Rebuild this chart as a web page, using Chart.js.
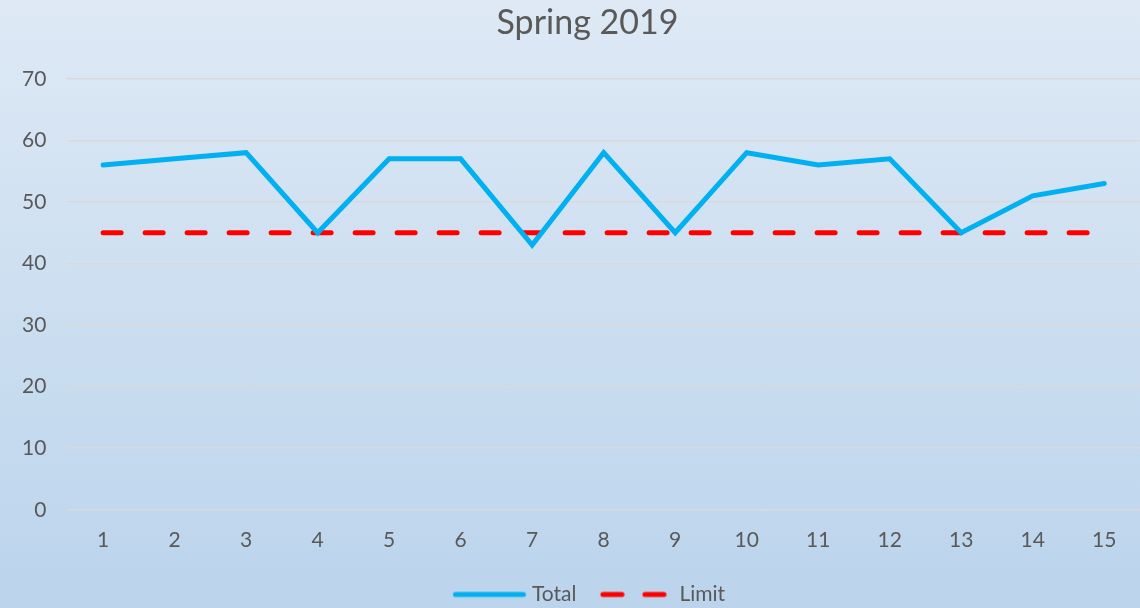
<!DOCTYPE html>
<html>
<head>
<meta charset="utf-8">
<script src="https://cdn.jsdelivr.net/npm/chart.js@4.4.1/dist/chart.umd.min.js"></script>
<style>
  body { margin: 0; }
  #wrap {
    width: 1140px;
    height: 608px;
    background: linear-gradient(to bottom, #dee9f5 0%, #bbd4ec 100%);
  }
</style>
</head>
<body>
<div id="wrap"><canvas id="chart" width="1140" height="608"></canvas></div>
<script>
// chart data
const days = ['1', '2', '3', '4', '5', '6', '7', '8', '9', '10', '11', '12', '13', '14', '15'];
const totals = [56, 57, 58, 45, 57, 57, 43, 58, 45, 58, 56, 57, 45, 51, 53];
const limits = [45, 45, 45, 45, 45, 45, 45, 45, 45, 45, 45, 45, 45, 45, 45];

const textColor = '#595959';
const fontFamily = "Lato, 'Open Sans', sans-serif";
const totalColor = '#00b0f0';
const limitColor = '#ff0000';
const limitDash = [18, 24];

// legend markers drawn on small canvases (solid line / two dashes)
function legendMarker(color, dash, x0, x1) {
  const c = document.createElement('canvas');
  c.width = 100;
  c.height = 8;
  const g = c.getContext('2d');
  g.strokeStyle = color;
  g.lineWidth = 5;
  g.lineCap = 'round';
  g.setLineDash(dash);
  g.beginPath();
  g.moveTo(x0, 4);
  g.lineTo(x1, 4);
  g.stroke();
  return c;
}
const markers = [
  legendMarker(totalColor, [], 26.25, 94.25),
  legendMarker(limitColor, [19, 23], 26.25, 87.25)
];

// nudge title and legend boxes after layout so they sit like the original
function shiftBox(box, dx, dy) {
  box.left += dx;
  box.right += dx;
  box.top += dy;
  box.bottom += dy;
}
const boxShift = {
  id: 'boxShift',
  afterLayout(chart) {
    shiftBox(chart.legend, 10.5, 13);
    shiftBox(chart.titleBlock, 17, 0);
  }
};

const ctx = document.getElementById('chart').getContext('2d');
new Chart(ctx, {
  type: 'line',
  data: {
    labels: days,
    datasets: [{
      label: 'Total',
      data: totals,
      borderColor: totalColor,
      backgroundColor: totalColor,
      borderWidth: 5,
      borderCapStyle: 'round',
      pointRadius: 0,
      tension: 0
    }, {
      label: 'Limit',
      data: limits,
      borderColor: limitColor,
      backgroundColor: limitColor,
      borderWidth: 5,
      borderDash: limitDash,
      borderCapStyle: 'round',
      pointRadius: 0,
      tension: 0
    }]
  },
  plugins: [boxShift],
  options: {
    responsive: false,
    animation: false,
    layout: {
      padding: { left: 1, right: 0, top: 3, bottom: 6 }
    },
    plugins: {
      title: {
        display: true,
        text: 'Spring 2019',
        color: textColor,
        font: { family: fontFamily, size: 34, weight: 'normal' },
        padding: { top: 0, bottom: 35 }
      },
      legend: {
        position: 'bottom',
        labels: {
          color: textColor,
          font: { family: fontFamily, size: 21 },
          usePointStyle: true,
          pointStyleWidth: 84.5,
          padding: 8,
          generateLabels(chart) {
            const items = Chart.defaults.plugins.legend.labels.generateLabels(chart);
            items.forEach((item, i) => { item.pointStyle = markers[i]; });
            return items;
          }
        }
      },
      tooltip: { enabled: false }
    },
    scales: {
      x: {
        offset: true,
        grid: { display: false },
        border: { display: false },
        ticks: {
          color: textColor,
          font: { family: fontFamily, size: 21 },
          padding: 10,
          maxRotation: 0
        }
      },
      y: {
        min: 0,
        max: 70,
        grid: { color: '#d9d9d9', lineWidth: 1.5, drawTicks: false },
        border: { display: false },
        ticks: {
          stepSize: 10,
          color: textColor,
          font: { family: fontFamily, size: 21 },
          padding: 21
        }
      }
    }
  }
});
</script>
</body>
</html>
